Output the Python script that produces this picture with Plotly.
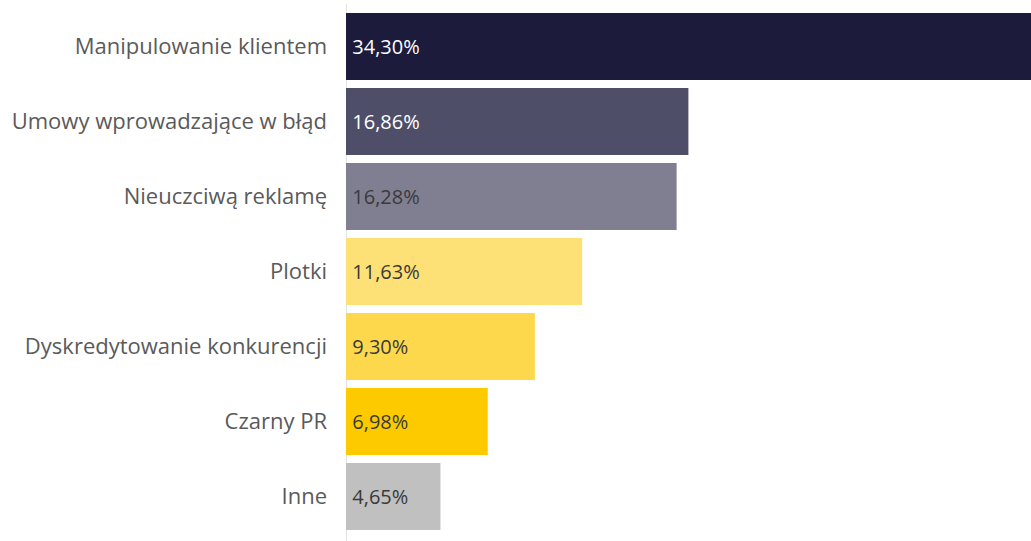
import plotly.graph_objects as go

categories = [
    "Manipulowanie klientem",
    "Umowy wprowadzające w błąd",
    "Nieuczciwą reklamę",
    "Plotki",
    "Dyskredytowanie konkurencji",
    "Czarny PR",
    "Inne",
]
values = [34.30, 16.86, 16.28, 11.63, 9.30, 6.98, 4.65]
bar_colors = ["#1c1b3b", "#4f4e68", "#807f92", "#fde176", "#fed84c", "#fdca00", "#c0c0c0"]
text_colors = ["#ffffff", "#ffffff", "#3a3a3a", "#3a3a3a", "#3a3a3a", "#3a3a3a", "#3a3a3a"]

# Polish decimal comma; a thin space keeps the label off the bar's left edge
labels = ["\u2009" + f"{v:.2f}%".replace(".", ",") for v in values]

fig = go.Figure(
    go.Bar(
        x=values,
        y=categories,
        orientation="h",
        marker=dict(color=bar_colors, line=dict(width=0)),
        text=labels,
        textposition="inside",
        insidetextanchor="start",
        textangle=0,
        textfont=dict(family="Open Sans", size=20, color=text_colors),
        cliponaxis=True,
    )
)

fig.add_shape(
    type="line", xref="x", yref="paper",
    x0=0, x1=0, y0=-0.02, y1=1.01,
    line=dict(color="#e3e3e3", width=2),
    layer="below",
)

fig.update_layout(
    width=1031, height=541,
    margin=dict(l=346, r=0, t=9, b=7),
    paper_bgcolor="white",
    plot_bgcolor="white",
    bargap=0.107,
    showlegend=False,
    uniformtext=dict(minsize=20, mode="show"),
    xaxis=dict(range=[0, 33.73], visible=False, fixedrange=True),
    yaxis=dict(
        autorange="reversed",
        showgrid=False,
        showline=False,
        ticks="",
        ticklabelstandoff=18,
        tickfont=dict(family="Open Sans", size=22, color="#5a5a5a"),
    ),
)

fig.write_html("out.html")
